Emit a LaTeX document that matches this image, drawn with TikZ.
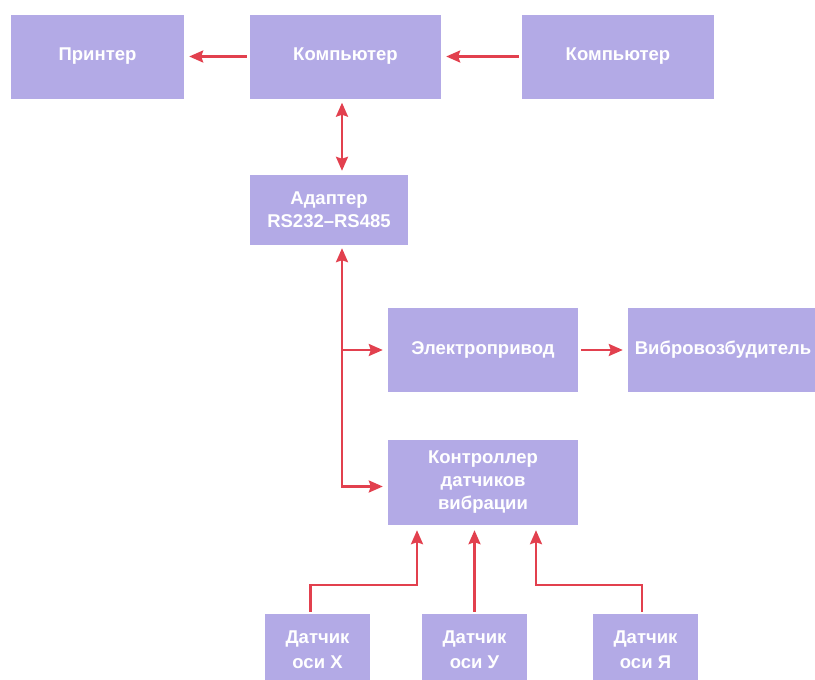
\documentclass[tikz,border=0pt]{standalone}
\usepackage{fontspec}
\setmainfont{Liberation Sans}
\usetikzlibrary{arrows.meta,calc}
\definecolor{boxc}{HTML}{B3AAE6}
\definecolor{arrc}{HTML}{E2404E}
\begin{document}
\begin{tikzpicture}[x=1pt,y=-1pt,
  blk/.style={fill=boxc, draw=none, minimum width=190pt, minimum height=84pt,
    inner sep=0pt, align=center, text=white,
    font=\bfseries\fontsize{18.5}{23}\selectfont},
  sens/.style={blk, minimum width=105pt, minimum height=72pt,
    font=\bfseries\fontsize{18.5}{25}\selectfont},
  tip/.tip={Stealth[length=14pt,width=12pt,inset=2pt]},
  arr/.style={draw=arrc, line width=2.4pt, shorten >=5pt, shorten <=3pt, -tip},
  darr/.style={arr, tip-tip},
]
\useasboundingbox (0,0) rectangle (815,680);
\node[blk, minimum width=173pt] (printer) at (97.5,56.5) {Принтер};
\node[blk, minimum width=191pt] (comp1) at (345.5,56.5) {Компьютер};
\node[blk, minimum width=192pt] (comp2) at (618,56.5) {Компьютер};
\node[blk, minimum width=158pt, minimum height=70pt] (adapt) at (329,210) {Адаптер\\RS232–RS485};
\node[blk] (drive) at (483,350) {Электропривод};
\node[blk] (vib) at (723,350) {Вибровозбудитель};
\node[blk, minimum height=85pt] (ctrl) at (483,482.5) {Контроллер\\датчиков\\вибрации};
\node[sens] (sx) at (317.5,650) {Датчик\\оси X};
\node[sens] (sy) at (474.5,650) {Датчик\\оси У};
\node[sens] (sz) at (645.5,650) {Датчик\\оси Я};
\coordinate (bus) at (342,0);

\draw[arr] (comp1.west) -- (printer.east);
\draw[arr] (comp2.west) -- (comp1.east);
\draw[darr, shorten <=4pt, shorten >=4pt] (comp1.south -| bus) -- (adapt.north -| bus);
\draw[darr, shorten <=3pt] (adapt.south -| bus) -- ($(ctrl.west -| bus)+(0,4)$) -- ($(ctrl.west)+(0,4)$);
\draw[arr, shorten <=0pt] (drive.west -| bus) -- (drive.west);
\draw[arr] (drive.east) -- (vib.west);
\draw[arr, shorten <=2pt] ($(sx.north)+(-7,0)$) -- ++(0,-29) -| ($(ctrl.south)+(-66,0)$);
\draw[arr, shorten <=2pt] (sy.north) -- (sy.north |- ctrl.south);
\draw[arr, shorten <=2pt] ($(sz.north)+(-3.5,0)$) -- ++(0,-29) -| ($(ctrl.south)+(53,0)$);
\end{tikzpicture}
\end{document}
